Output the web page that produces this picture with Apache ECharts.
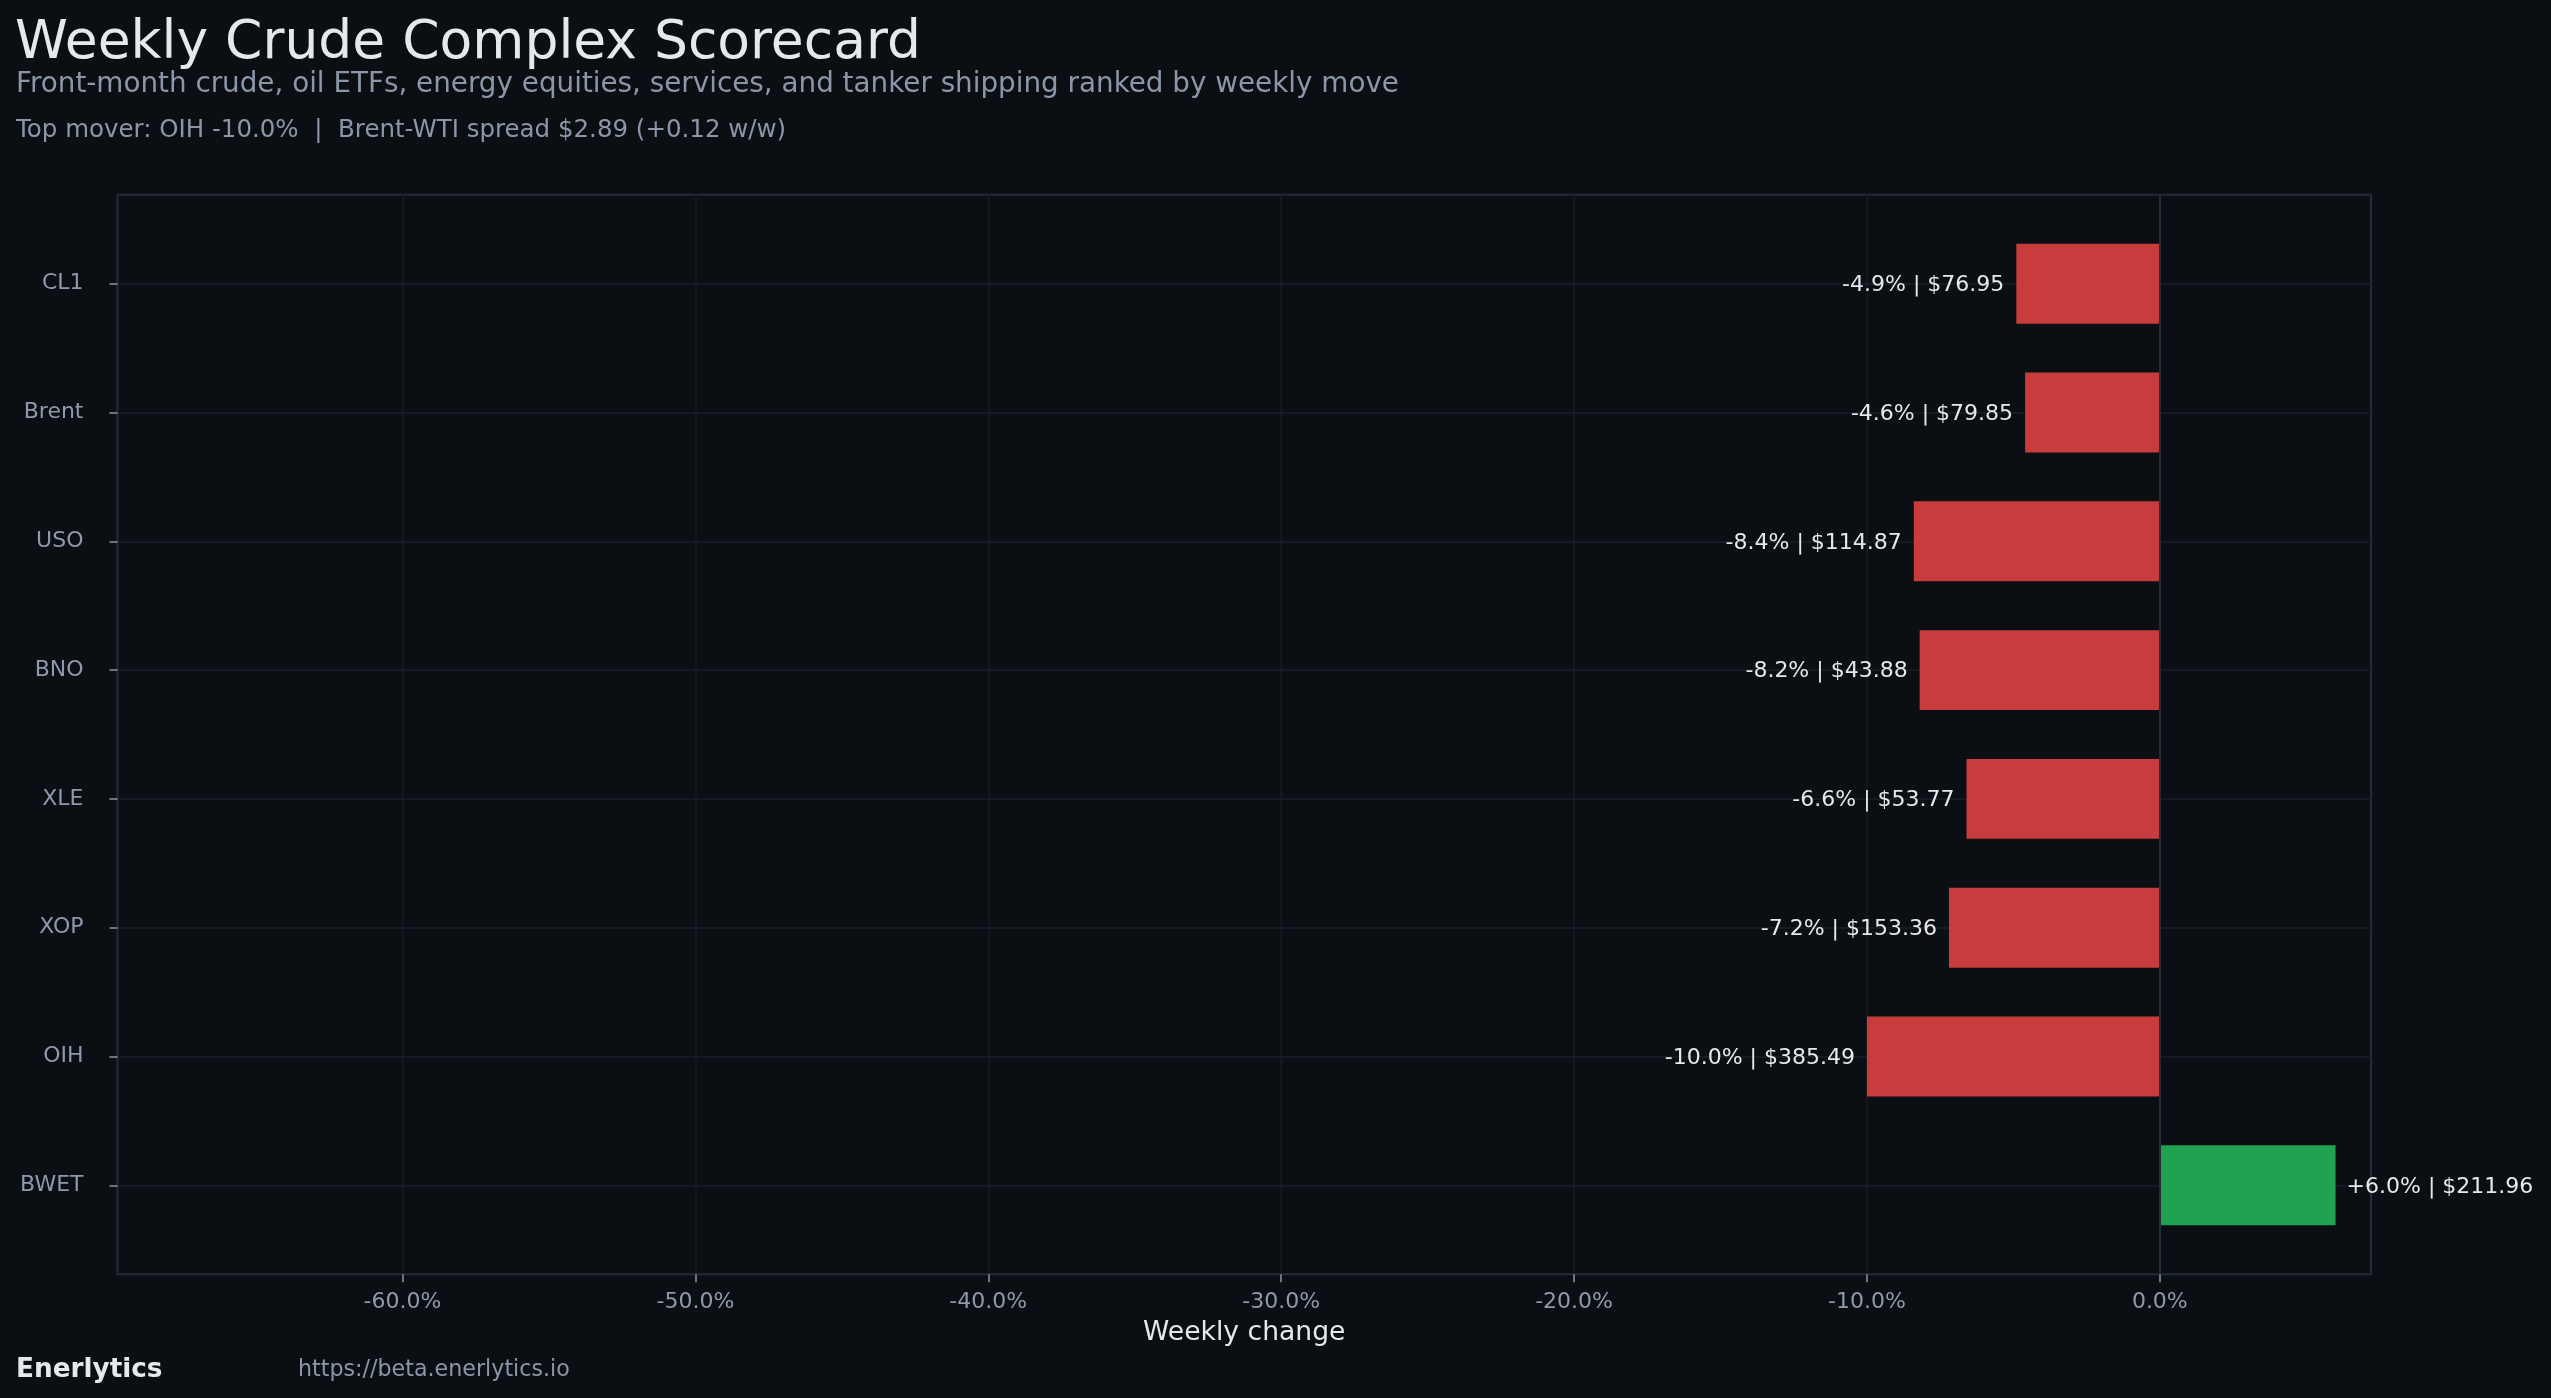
<!DOCTYPE html>
<html>
<head>
<meta charset="utf-8">
<script src="https://cdn.jsdelivr.net/npm/echarts@6/dist/echarts.min.js"></script>
<style>
html,body{margin:0;padding:0;background:#0b0e13;}
#chart{width:2551px;height:1398px;}
</style>
</head>
<body>
<div id="chart"></div>
<script>
const categories = ['CL1', 'Brent', 'USO', 'BNO', 'XLE', 'XOP', 'OIH', 'BWET'];
const weeklyChange = [-4.9, -4.6, -8.4, -8.2, -6.6, -7.2, -10.0, 6.0];
const lastPrice = [76.95, 79.85, 114.87, 43.88, 53.77, 153.36, 385.49, 211.96];
const xTickValues = [-60, -50, -40, -30, -20, -10, 0];
const categoryIndex = [0, 1, 2, 3, 4, 5, 6, 7];

const FONT = '"DejaVu Sans", "Liberation Sans", sans-serif';
const RED = '#c73c3d';
const GREEN = '#20a351';
const BAR_H = 0.62;

const chart = echarts.init(document.getElementById('chart'), null, {renderer: 'canvas'});

const seriesData = weeklyChange.map((v, i) => [v, i, lastPrice[i]]);

function fmtLabel(v, p) {
  const s = (v > 0 ? '+' : '') + v.toFixed(1) + '%';
  return s + ' | $' + p.toFixed(2);
}

const option = {
  backgroundColor: '#0b0e13',
  animation: false,
  title: [
    {text: 'Weekly Crude Complex Scorecard', left: 15, top: 17, padding: 0,
     textStyle: {color: '#e6e8ec', fontSize: 53.5, fontWeight: 'normal', fontFamily: FONT, lineHeight: 54}},
    {text: 'Front-month crude, oil ETFs, energy equities, services, and tanker shipping ranked by weekly move', left: 16, top: 71, padding: 0,
     textStyle: {color: '#8b97a8', fontSize: 27.8, fontWeight: 'normal', fontFamily: FONT, lineHeight: 28}},
    {text: 'Top mover: OIH -10.0%  |  Brent-WTI spread $2.89 (+0.12 w/w)', left: 16, top: 118, padding: 0,
     textStyle: {color: '#8b97a8', fontSize: 24.5, fontWeight: 'normal', fontFamily: FONT, lineHeight: 25}},
    {text: 'Enerlytics', left: 16, top: 1357, padding: 0,
     textStyle: {color: '#e6e8ec', fontSize: 26.3, fontWeight: 'bold', fontFamily: FONT, lineHeight: 27}},
    {text: 'https://beta.enerlytics.io', left: 298, top: 1359.5, padding: 0,
     textStyle: {color: '#8b97a8', fontSize: 22.2, fontWeight: 'normal', fontFamily: FONT, lineHeight: 22}}
  ],
  grid: {
    left: 117.5, right: 180, top: 194.7, bottom: 123.7,
    show: true, borderColor: '#222b38', borderWidth: 2, backgroundColor: 'transparent',
    containLabel: false
  },
  xAxis: {
    type: 'value',
    min: -69.73, max: 7.21,
    name: 'Weekly change',
    nameLocation: 'middle',
    nameGap: 45,
    nameTextStyle: {color: '#e6e8ec', fontSize: 26.6, fontFamily: FONT},
    axisLine: {show: false, onZero: false},
    axisTick: {show: true, length: 8, customValues: xTickValues, lineStyle: {color: '#8b97a8', width: 1.5}},
    axisLabel: {show: true, customValues: xTickValues, margin: 17, color: '#8e9aab', fontSize: 22, fontFamily: FONT,
      formatter: v => v.toFixed(1) + '%'},
    splitLine: {show: true, lineStyle: {color: '#171d26', width: 1.5}}
  },
  yAxis: {
    type: 'value',
    inverse: true,
    min: -0.691, max: 7.691,
    axisLine: {show: false, onZero: false},
    axisTick: {show: true, length: 8, customValues: categoryIndex, lineStyle: {color: '#8b97a8', width: 1.5}},
    axisLabel: {show: true, customValues: categoryIndex, margin: 34, padding: [7, 0, 0, 0], color: '#8e9aab', fontSize: 22, fontFamily: FONT,
      formatter: v => categories[Math.round(v)] || ''},
    splitLine: {show: true, lineStyle: {color: '#1a202a', width: 1.5}}
  },
  series: [{
    type: 'custom',
    clip: false,
    data: seriesData,
    encode: {x: 0, y: 1},
    renderItem: function (params, api) {
      const v = api.value(0), i = api.value(1), p = api.value(2);
      const a = api.coord([0, i]);
      const b = api.coord([v, i]);
      const h = Math.abs(api.size([0, BAR_H])[1]);
      const neg = v < 0;
      return {
        type: 'group',
        children: [
          {type: 'rect', shape: {x: Math.min(a[0], b[0]), y: a[1] - h / 2, width: Math.abs(b[0] - a[0]), height: h},
           style: {fill: neg ? RED : GREEN}},
          {type: 'text', style: {text: fmtLabel(v, p), x: neg ? b[0] - 12 : b[0] + 11, y: a[1] + 1.5,
            align: neg ? 'right' : 'left', verticalAlign: 'middle', fill: '#e6e8eb', fontSize: 22, fontFamily: FONT}}
        ]
      };
    },
    markLine: {
      silent: true, symbol: 'none', label: {show: false},
      lineStyle: {color: '#232c39', width: 2, type: 'solid'},
      data: [{xAxis: 0}]
    }
  }]
};
chart.setOption(option);
</script>
</body>
</html>
